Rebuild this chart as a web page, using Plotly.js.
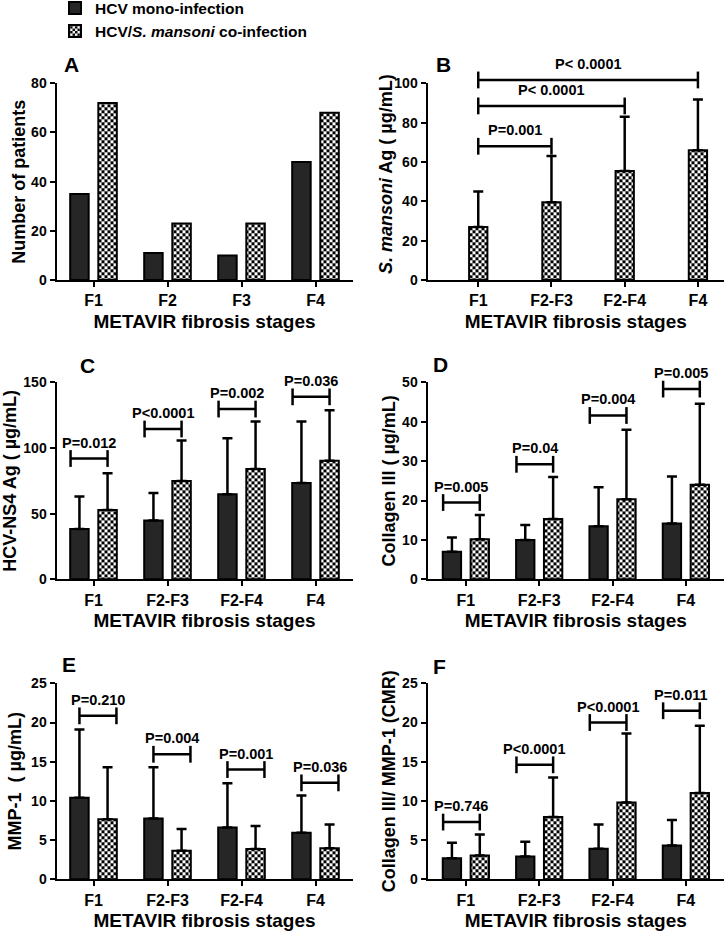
<!DOCTYPE html>
<html><head><meta charset="utf-8">
<script src="https://cdn.plot.ly/plotly-3.0.1.min.js"></script>
<style>html,body{margin:0;padding:0;background:#fff}</style>
</head><body><div id="chart" style="width:725px;height:932px"></div>
<script>
// ---------------- data ----------------
const stagesA = ['F1', 'F2', 'F3', 'F4'];
const stages = ['F1', 'F2-F3', 'F2-F4', 'F4'];
const seriesNames = ['HCV mono-infection', 'HCV/<i>S. mansoni</i> co-infection'];

const aMono = [35, 11, 10, 48];
const aCo = [72, 23, 23, 68];

const bCo = [27, 39.5, 55.4, 66];
const bCoSD = [18, 23.5, 27.6, 25.8];
const bBracketY = [68, 88.5, 101.7];
const bBracketTo = [1, 2, 3];
const bP = ['P=0.001', 'P< 0.0001', 'P< 0.0001'];

const cMono = [38.3, 44.7, 64.7, 73.4];
const cMonoSD = [24.7, 21.0, 42.8, 46.9];
const cCo = [52.8, 74.9, 84.0, 90.4];
const cCoSD = [27.9, 30.9, 36.3, 38.3];
const cBracketY = [92, 114.5, 129.7, 139];
const cP = ['P=0.012', 'P<0.0001', 'P=0.002', 'P=0.036'];

const dMono = [7.0, 10.0, 13.5, 14.2];
const dMonoSD = [3.6, 3.8, 9.9, 11.9];
const dCo = [10.2, 15.3, 20.3, 24.0];
const dCoSD = [6.1, 10.7, 17.7, 20.6];
const dBracketY = [19.5, 29.2, 41.6, 48.3];
const dP = ['P=0.005', 'P=0.04', 'P=0.004', 'P=0.005'];

const eMono = [10.4, 7.75, 6.6, 5.95];
const eMonoSD = [8.7, 6.55, 5.65, 4.75];
const eCo = [7.65, 3.65, 3.85, 3.95];
const eCoSD = [6.65, 2.75, 2.95, 3.05];
const eBracketY = [20.85, 15.95, 14.0, 12.3];
const eP = ['P=0.210', 'P=0.004', 'P=0.001', 'P=0.036'];

const fMono = [2.7, 2.9, 3.9, 4.3];
const fMonoSD = [1.95, 1.9, 3.1, 3.25];
const fCo = [3.05, 7.95, 9.8, 11.0];
const fCoSD = [2.65, 5.05, 8.8, 8.6];
const fBracketY = [7.3, 14.6, 20.0, 21.5];
const fP = ['P=0.746', 'P<0.0001', 'P<0.0001', 'P=0.011'];

// ---------------- styling helpers ----------------
const idx = stages.map((_, i) => i);
const BW = 0.25;
const darkFill = '#262626';
function errs(sd) {
  return {type: 'data', symmetric: false, array: sd, arrayminus: sd.map(() => 0),
          color: 'black', thickness: 2.5, width: 5};
}
function mono(y, sd, xa, ya, show) {
  const t = {type: 'bar', x: idx, y: y, xaxis: xa, yaxis: ya, name: seriesNames[0],
    legendgroup: 'mono', showlegend: !!show, width: BW, offset: -0.315,
    marker: {color: darkFill, line: {color: 'black', width: 2}}, hoverinfo: 'skip'};
  if (sd) t.error_y = errs(sd);
  return t;
}
function co(y, sd, xa, ya, show, single) {
  const t = {type: 'bar', x: idx, y: y, xaxis: xa, yaxis: ya, name: seriesNames[1],
    legendgroup: 'co', showlegend: !!show, width: BW, offset: single ? -BW / 2 : 0.065,
    marker: {color: 'white', line: {color: 'black', width: 2},
      pattern: {shape: '.', fgcolor: 'black', bgcolor: 'white', size: 6, solidity: 0.5, fillmode: 'replace'}},
    hoverinfo: 'skip'};
  if (sd) t.error_y = errs(sd);
  return t;
}
const traces = [];
const annotations = [];
function bracket(x0, x1, yv, txt, xa, ya) {
  traces.push({type: 'scatter', mode: 'lines+markers', x: [x0, x1], y: [yv, yv], xaxis: xa, yaxis: ya,
    cliponaxis: false, showlegend: false, hoverinfo: 'skip',
    line: {color: 'black', width: 2.5},
    marker: {symbol: 'line-ns-open', size: 12, color: 'black', line: {color: 'black', width: 2.5}}});
  annotations.push({xref: xa, yref: ya, x: (x0 + x1) / 2, y: yv, text: txt, showarrow: false,
    yanchor: 'bottom', yshift: 6, font: {size: 14.5}});
}

// Panel A
traces.push(mono(aMono, null, 'x', 'y', true));
traces.push(co(aCo, null, 'x', 'y', true));
// Panel B (brackets on an invisible companion axis with the same scale but taller extent)
traces.push(co(bCo, bCoSD, 'x2', 'y2', false, true));
bBracketY.forEach((v, i) => bracket(0, bBracketTo[i], v, bP[i], 'x2', 'y7'));
// Panels C-F
const panels = [
  [cMono, cMonoSD, cCo, cCoSD, cBracketY, cP, 'x3', 'y3', -0.31, 0.19],
  [dMono, dMonoSD, dCo, dCoSD, dBracketY, dP, 'x4', 'y4', -0.31, 0.19],
  [eMono, eMonoSD, eCo, eCoSD, eBracketY, eP, 'x5', 'y5', -0.19, 0.31],
  [fMono, fMonoSD, fCo, fCoSD, fBracketY, fP, 'x6', 'y6', -0.31, 0.19]
];
panels.forEach(p => {
  traces.push(mono(p[0], p[1], p[6], p[7]));
  traces.push(co(p[2], p[3], p[6], p[7]));
  p[4].forEach((v, i) => bracket(i + p[8], i + p[9], v, p[5][i], p[6], p[7]));
});

// ---------------- layout ----------------
const W = 725, H = 932;
const px = v => v / W, py = v => 1 - v / H;
const leftDom = [px(56.5), px(352.5)];
const rightDom = [px(427.5), px(724)];
const rowPx = [[280, 83.3], [579.3, 382.4], [879.3, 683.3]];
const rows = rowPx.map(r => [py(r[0]), py(r[1])]);
// companion axis for B: same px-per-unit as yaxis2, domain extended upward
const bTopPx = 40;
const bCompanionTop = 100 * (rowPx[0][0] - bTopPx) / (rowPx[0][0] - rowPx[0][1]);

function xax(dom, anchor, range, labels) {
  return {domain: dom, anchor: anchor, range: range, tickmode: 'array', tickvals: idx, ticktext: labels,
    showline: true, linecolor: 'black', linewidth: 2, ticks: 'outside', ticklen: 5, tickwidth: 2,
    tickcolor: 'black', showgrid: false, zeroline: false, tickfont: {size: 16},
    title: {text: 'METAVIR fibrosis stages', font: {size: 19}, standoff: 6}, fixedrange: true};
}
function yax(dom, anchor, range, dtick, title, standoff) {
  return {domain: dom, anchor: anchor, range: range, dtick: dtick, showline: true, linecolor: 'black',
    linewidth: 2, ticks: 'outside', ticklen: 5, tickwidth: 2, tickcolor: 'black', showgrid: false,
    zeroline: false, tickfont: {size: 14}, title: {text: title, font: {size: 18}, standoff: standoff},
    fixedrange: true};
}

const letters = [['A', 71, 64], ['B', 443, 64], ['C', 87, 365], ['D', 440, 364], ['E', 69, 664], ['F', 439, 666]];
letters.forEach(l => annotations.push({xref: 'paper', yref: 'paper', x: px(l[1]), y: py(l[2]), text: l[0],
  showarrow: false, xanchor: 'center', yanchor: 'middle', font: {size: 21}}));
// y title of panel B (sits closer to its tick labels than an axis title allows)
annotations.push({xref: 'paper', yref: 'paper', x: px(386), y: py(174), text: '<i>S. mansoni</i> Ag ( µg/mL)',
  textangle: -90, showarrow: false, xanchor: 'center', yanchor: 'middle', font: {size: 18}});

const layout = {
  width: W, height: H, margin: {l: 0, r: 0, t: 0, b: 0, autoexpand: false},
  paper_bgcolor: 'white', plot_bgcolor: 'rgba(0,0,0,0)', barmode: 'overlay',
  font: {family: 'Liberation Sans, Arial, sans-serif', color: 'black', size: 14, weight: 'bold'},
  showlegend: true,
  legend: {x: px(55), y: 1.0093, xanchor: 'left', yanchor: 'top', bgcolor: 'rgba(0,0,0,0)',
    font: {size: 15.5}, traceorder: 'normal', itemclick: false, itemdoubleclick: false},
  xaxis: xax(leftDom, 'y', [-0.5, 3.5], stagesA),
  yaxis: yax(rows[0], 'x', [0, 80], 20, 'Number of patients', 1),
  xaxis2: xax(rightDom, 'y2', [-0.693, 3.356], stages),
  yaxis2: yax(rows[0], 'x2', [0, 100], 20, '', 0),
  xaxis3: xax(leftDom, 'y3', [-0.5, 3.5], stages),
  yaxis3: yax(rows[1], 'x3', [0, 150], 50, 'HCV-NS4 Ag ( µg/mL)', 8),
  xaxis4: xax(rightDom, 'y4', [-0.523, 3.52], stages),
  yaxis4: yax(rows[1], 'x4', [0, 50], 10, 'Collagen III ( µg/mL)', 2),
  xaxis5: xax(leftDom, 'y5', [-0.5, 3.5], stages),
  yaxis5: yax(rows[2], 'x5', [0, 25], 5, 'MMP-1 \u00a0( µg/mL)', 5),
  xaxis6: xax(rightDom, 'y6', [-0.523, 3.52], stages),
  yaxis6: yax(rows[2], 'x6', [0, 25], 5, 'Collagen III/ MMP-1 (CMR)', 2),
  yaxis7: {domain: [py(rowPx[0][0]), py(bTopPx)], anchor: 'x2', range: [0, bCompanionTop],
    visible: false, showgrid: false, zeroline: false, fixedrange: true},
  annotations: annotations
};

const gd = document.getElementById('chart');
Plotly.newPlot(gd, traces, layout, {displayModeBar: false, staticPlot: true}).then(() => {
  // turn the dotted fill pattern into the checkerboard texture of the original figure
  const ns = 'http://www.w3.org/2000/svg';
  gd.querySelectorAll('pattern').forEach(p => {
    p.setAttribute('width', 6);
    p.setAttribute('height', 6);
    p.setAttribute('patternUnits', 'userSpaceOnUse');
    while (p.firstChild) p.removeChild(p.firstChild);
    [[0, 0, 6, 6, '#ffffff'], [0, 0, 3, 3, '#000000'], [3, 3, 3, 3, '#000000']].forEach(r => {
      const e = document.createElementNS(ns, 'rect');
      e.setAttribute('x', r[0]); e.setAttribute('y', r[1]);
      e.setAttribute('width', r[2]); e.setAttribute('height', r[3]);
      e.setAttribute('fill', r[4]);
      p.appendChild(e);
    });
  });
});
</script></body></html>
